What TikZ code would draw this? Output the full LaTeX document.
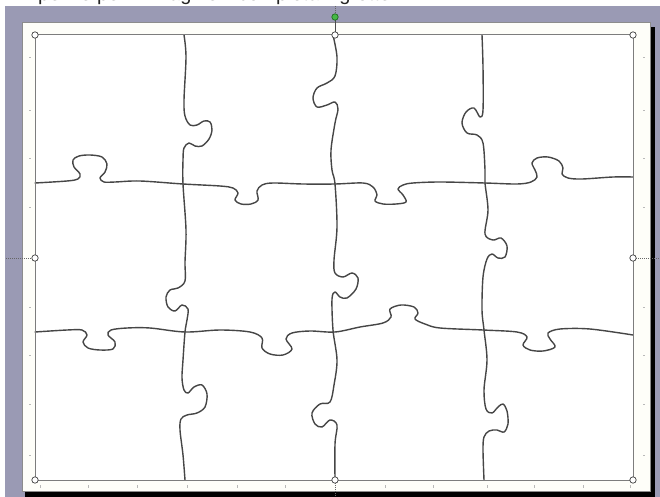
\documentclass[tikz,border=0pt]{standalone}
\usepackage{fontspec}
\setmainfont{Liberation Sans}
\definecolor{bandblue}{RGB}{154,154,180}
\definecolor{puzgray}{RGB}{70,70,70}
\definecolor{framegray}{RGB}{125,125,125}
\definecolor{pagecream}{RGB}{254,254,249}
\definecolor{handlegreen}{RGB}{70,185,70}
\definecolor{handledark}{RGB}{30,110,30}
\definecolor{tickgray}{RGB}{185,185,185}
\begin{document}
\begin{tikzpicture}[x=1pt,y=-1pt,
  puz/.style={draw=puzgray, line width=1.4pt, line cap=round, line join=round},
  handle/.style={draw=black!75, fill=white, line width=0.7pt},
  guide/.style={draw=black!60, line width=0.6pt, dash pattern=on 1pt off 1pt},
  tickmark/.style={draw=tickgray, line width=0.7pt}]
\useasboundingbox (0,0) rectangle (660,497);
\fill[white] (0,0) rectangle (660,497);
% partly visible title text
\begin{scope}
  \clip (0,0) rectangle (660,5.5);
  \node[anchor=base west, inner sep=0, font=\fontsize{20}{24}\selectfont, text=black!85] (title) at (38,1) {pezze per immagine\quad completa\quad grotte};
\end{scope}
% window background band
\fill[bandblue] (5,6) rectangle (660,497);
% page shadow
\fill[black] (650,27) rectangle (655,497);
\fill[black] (25,491) rectangle (655,497);
% page
\fill[pagecream] (22,22) rectangle (650,491);
\draw[black!45, line width=0.5pt] (22,22) rectangle (650,491);
\fill[white] (35,35) rectangle (633,480);
% ruler ticks
\foreach \yy in {57,110,158,207,307,355,404,455} {
  \draw[tickmark] (29,\yy) -- (31,\yy);
  \draw[tickmark] (643,\yy) -- (645,\yy);
}
\foreach \xx in {40,88,137,187,237,285,385,433,487,534,583,630} {
  \draw[tickmark] (\xx,485) -- (\xx,487.5);
}
% puzzle cuts
\draw[puz] plot[smooth, tension=0.55] coordinates {
  (184,35) (186,57) (184,100) (185,116) (190,125) (197,125) (204,121) (210,122) (212,130) (209,139) (202,146) (195,146) (189,143) (184,148) (183,160) (183,184) (186,230) (185,262) (185,281) (178,288) (170,290) (166,297) (168,307) (175,311) (182,305) (188,309) (187,320) (185,332) (183,360) (182,378) (184,390) (188,393) (194,387) (202,385) (207,394) (205,407) (197,413) (187,415) (181,419) (180,430) (183,455) (185,480)};
\draw[puz] plot[smooth, tension=0.55] coordinates {
  (333,35) (337,57) (335,76) (327,83) (317,88) (313,98) (317,107) (327,105) (335,102) (338,109) (335,123) (331,150) (332,170) (335,184) (337,227) (334,260) (335,273) (343,277) (352,273) (358,278) (356,289) (347,298) (340,297) (335,292) (332,299) (333,330) (337,360) (334,385) (330,402) (320,404) (312,413) (315,424) (322,427) (330,420) (337,425) (335,444) (335,480)};
\draw[puz] plot[smooth, tension=0.55] coordinates {
  (482,35) (483,67) (483,110) (480,117) (474,108) (466,112) (462,123) (467,133) (477,135) (483,143) (485,170) (485,183) (488,210) (485,234) (493,240) (501,238) (507,246) (505,257) (498,258) (492,254) (487,259) (483,277) (482,310) (484,330) (487,360) (484,390) (486,409) (492,413) (498,407) (503,404) (507,411) (508,424) (504,432) (497,430) (489,431) (484,437) (483,450) (484,480)};
\draw[puz] plot[smooth, tension=0.55] coordinates {
  (35,183) (67,181) (78,179) (80,174) (74,167) (73,160) (79,156) (90,155) (102,157) (107,164) (105,172) (100,178) (104,182) (115,182) (140,181) (183,184) (220,186) (233,188) (238,193) (235,200) (241,204) (251,204) (258,200) (257,191) (262,185) (273,183) (303,184) (335,184) (363,183) (373,187) (377,195) (375,201) (383,204) (396,204) (406,202) (403,195) (398,189) (403,185) (413,183) (440,182) (485,183) (517,184) (531,182) (537,177) (535,170) (532,163) (537,158) (548,157) (559,161) (563,168) (562,174) (568,178) (582,179) (613,177) (633,177)};
\draw[puz] plot[smooth, tension=0.55] coordinates {
  (35,332) (67,330) (82,330) (87,335) (83,342) (88,348) (100,350) (113,349) (115,342) (108,335) (111,330) (127,328) (150,328) (185,332) (220,330) (250,332) (262,338) (262,348) (270,354) (283,355) (292,349) (286,339) (292,333) (310,331) (335,332) (360,327) (383,323) (391,317) (390,309) (401,305) (414,307) (418,313) (415,319) (425,324) (440,328) (483,330) (517,332) (527,337) (523,345) (530,350) (543,351) (555,347) (550,339) (548,333) (560,329) (590,329) (633,335)};
% selection frame
\draw[framegray, line width=1pt] (35,35) rectangle (633,480);
% guide lines
\draw[guide] (335,6) -- (335,14);
\draw[black!70, line width=0.8pt] (335,20) -- (335,32);
\draw[guide] (6,258) -- (32,258);
\draw[guide] (636,258) -- (660,258);
\draw[guide] (335,483) -- (335,497);
% handles
\foreach \p in {(35,35),(335,35),(633,35),(35,258),(633,258),(35,480),(335,480),(633,480)} {
  \draw[handle] \p circle[radius=3.2];
}
\draw[draw=handledark, fill=handlegreen, line width=0.7pt] (335,17) circle[radius=3.2];
\end{tikzpicture}
\end{document}
